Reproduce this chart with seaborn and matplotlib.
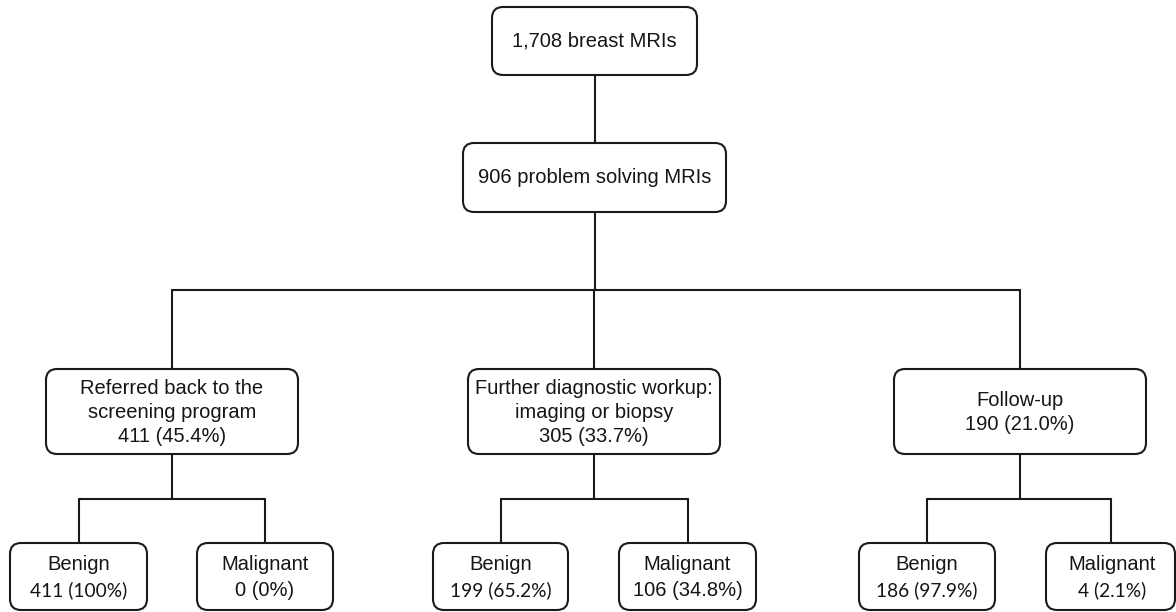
import matplotlib
matplotlib.use("Agg")
import matplotlib.pyplot as plt
from matplotlib.patches import FancyBboxPatch
import seaborn as sns
import pandas as pd

# ---------------- data ----------------
total_label = "breast MRIs"
total_count = 1708
problem_label = "problem solving MRIs"
problem_count = 906
outcome_labels = ["Referred back to the\nscreening program",
                  "Further diagnostic workup:\nimaging or biopsy",
                  "Follow-up"]
outcome_counts = [411, 305, 190]
outcome_pcts = ["45.4%", "33.7%", "21.0%"]
leaf_labels = ["Benign", "Malignant"]
benign_counts = [411, 199, 186]
benign_pcts = ["100%", "65.2%", "97.9%"]
malignant_counts = [0, 106, 4]
malignant_pcts = ["0%", "34.8%", "2.1%"]

# ---------------- layout (pixel space) ----------------
W, H = 1176, 612
root_box = (492, 7, 697, 75)
problem_box = (463, 143, 726, 212)
mid_boxes = [(46, 369, 298, 454), (468, 369, 720, 454), (894, 369, 1146, 454)]
leaf_boxes = [[(10, 543, 147, 610), (197, 543, 333, 610)],
              [(433, 543, 568, 610), (619, 543, 756, 610)],
              [(859, 543, 995, 610), (1046, 543, 1175, 610)]]
branch_y1 = 290
branch_y2 = 499
# font choice per leaf number text (mixed in the original)
leaf_num_fonts = [["Lato", "Liberation Sans"], ["Lato", "Liberation Sans"], ["Lato", "Lato"]]

sns.set_theme(style="white")
plt.rcParams['font.family'] = ['Liberation Sans', 'DejaVu Sans']

fig = plt.figure(figsize=(W / 100, H / 100), dpi=100)
ax = fig.add_axes([0, 0, 1, 1])

LW = 1.5
FS = 14.5
TXT = "#151515"


def cx(b):
    return (b[0] + b[2]) / 2


def cy(b):
    return (b[1] + b[3]) / 2


def box(b):
    p = FancyBboxPatch((b[0], b[1]), b[2] - b[0], b[3] - b[1],
                       boxstyle="round,pad=0,rounding_size=11",
                       fc="white", ec="#1a1a1a", lw=LW, zorder=3)
    ax.add_patch(p)


# connectors as seaborn line segments
segs = []
def seg(x0, y0, x1, y1):
    k = len(segs)
    segs.append({"seg": k, "x": x0, "y": y0})
    segs.append({"seg": k, "x": x1, "y": y1})

seg(cx(root_box), root_box[3], cx(problem_box), problem_box[1])
seg(cx(problem_box), problem_box[3], cx(problem_box), branch_y1)
seg(cx(mid_boxes[0]), branch_y1, cx(mid_boxes[2]), branch_y1)
for i, mb in enumerate(mid_boxes):
    seg(cx(mb), branch_y1, cx(mb), mb[1])
    seg(cx(mb), mb[3], cx(mb), branch_y2)
    lb, rb = leaf_boxes[i]
    seg(cx(lb), branch_y2, cx(rb), branch_y2)
    seg(cx(lb), branch_y2, cx(lb), lb[1])
    seg(cx(rb), branch_y2, cx(rb), rb[1])

df = pd.DataFrame(segs)
sns.lineplot(data=df, x="x", y="y", units="seg", estimator=None, sort=False,
             color="#1a1a1a", lw=LW, ax=ax, zorder=2)
ax.set_xlim(0, W)
ax.set_ylim(H, 0)
ax.axis("off")

# boxes and text
box(root_box)
ax.text(cx(root_box), cy(root_box), f"{total_count:,} {total_label}",
        ha="center", va="center", fontsize=FS, color=TXT, zorder=4)
box(problem_box)
ax.text(cx(problem_box), cy(problem_box), f"{problem_count} {problem_label}",
        ha="center", va="center", fontsize=FS, color=TXT, zorder=4)

for i, mb in enumerate(mid_boxes):
    box(mb)
    ax.text(cx(mb), cy(mb) + 1, f"{outcome_labels[i]}\n{outcome_counts[i]} ({outcome_pcts[i]})",
            ha="center", va="center", fontsize=FS, linespacing=1.34,
            color=TXT, zorder=4)
    vals = [(benign_counts[i], benign_pcts[i]), (malignant_counts[i], malignant_pcts[i])]
    for j, lb in enumerate(leaf_boxes[i]):
        box(lb)
        tx = cx(lb) if not (i == 2 and j == 1) else 1112
        ax.text(tx, 565, leaf_labels[j], ha="center", va="center",
                fontsize=FS, color=TXT, zorder=4)
        fam = leaf_num_fonts[i][j]
        fs2 = 13.8 if fam == "Lato" else FS
        ax.text(tx, 590, f"{vals[j][0]} ({vals[j][1]})", ha="center", va="center",
                fontsize=fs2, family=fam, color=TXT, zorder=4)

fig.savefig("out.png", dpi=100, facecolor="white")
